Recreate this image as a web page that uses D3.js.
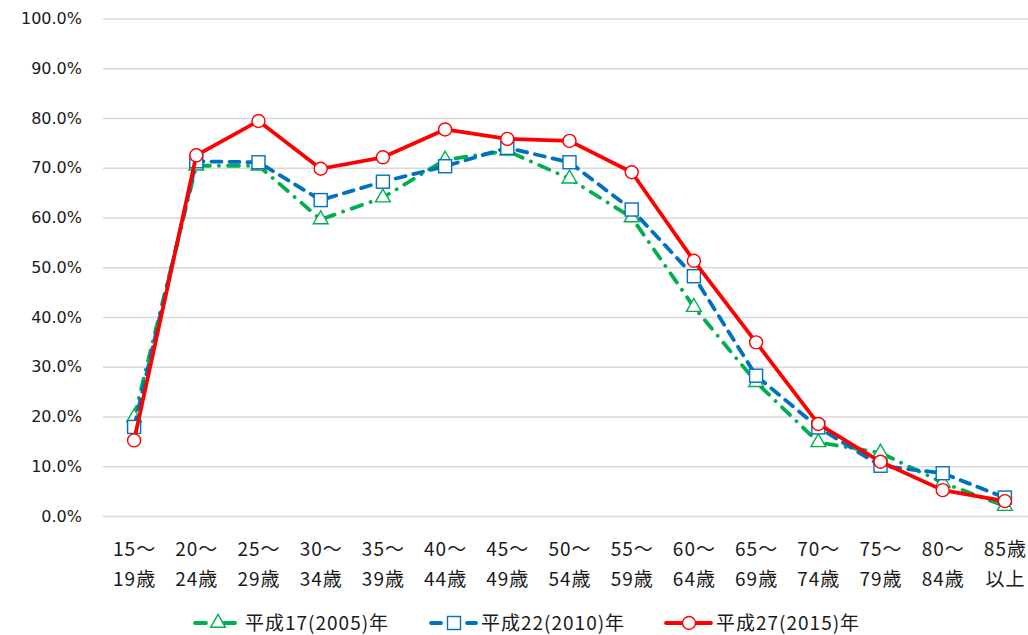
<!DOCTYPE html>
<html>
<head>
<meta charset="utf-8">
<script src="https://cdn.jsdelivr.net/npm/d3@7"></script>
<style>
  body { margin: 0; background: #fff; }
  svg { display: block; }
</style>
</head>
<body>
<svg id="chart" width="1028" height="635"></svg>
<script>
// age groups (two text lines each)
const ageTop = ['15～', '20～', '25～', '30～', '35～', '40～', '45～', '50～', '55～', '60～', '65～', '70～', '75～', '80～', '85歳'];
const ageBottom = ['19歳', '24歳', '29歳', '34歳', '39歳', '44歳', '49歳', '54歳', '59歳', '64歳', '69歳', '74歳', '79歳', '84歳', '以上'];

// rates in percent
const h17 = [19.8, 70.4, 70.4, 59.6, 64.0, 71.6, 73.4, 67.8, 60.0, 42.0, 26.9, 14.8, 12.7, 6.7, 2.0];
const h22 = [17.9, 71.3, 71.1, 63.5, 67.2, 70.3, 74.0, 71.1, 61.6, 48.2, 28.2, 17.8, 10.1, 8.6, 3.7];
const h27 = [15.2, 72.5, 79.4, 69.8, 72.1, 77.7, 75.8, 75.4, 69.1, 51.3, 34.9, 18.5, 10.9, 5.2, 3.0];

const seriesNames = ['平成17(2005)年', '平成22(2010)年', '平成27(2015)年'];
const yTicks = [0, 0.1, 0.2, 0.3, 0.4, 0.5, 0.6, 0.7, 0.8, 0.9, 1.0];

const series = [
    { name: seriesNames[0], values: h17, color: '#00B050', dash: '11 9 0.1 9', marker: 'triangle' },
    { name: seriesNames[1], values: h22, color: '#0070C0', dash: '10 8', marker: 'square' },
    { name: seriesNames[2], values: h27, color: '#FF0000', dash: null, marker: 'circle' }
];

const svg = d3.select('#chart');
const jpFont = '"Noto Sans CJK JP", "Noto Sans", sans-serif';
const numFont = '"DejaVu Sans", sans-serif';

const plot = { left: 103, right: 1036, top: 18.5, bottom: 516 };

const x = d3.scaleBand()
    .domain(d3.range(ageTop.length))
    .range([plot.left, plot.right])
    .padding(0);
const cx = i => x(i) + x.bandwidth() / 2;

const y = d3.scaleLinear()
    .domain([0, 1])
    .range([plot.bottom, plot.top]);

// gridlines + y labels
const yAxis = svg.append('g')
    .attr('transform', `translate(${plot.left},0)`)
    .call(d3.axisLeft(y).tickValues(yTicks).tickFormat(d3.format('.1%'))
        .tickSize(-(plot.right - plot.left)).tickPadding(21));
yAxis.select('.domain').remove();
yAxis.selectAll('line').attr('stroke', '#d9d9d9').attr('stroke-width', 1.3);
yAxis.selectAll('text')
    .attr('fill', '#1a1a1a')
    .style('font-family', numFont)
    .style('font-size', '16px');

// x labels
const xl = svg.append('g');
ageTop.forEach((t, i) => {
    xl.append('text').attr('x', cx(i) + 0.5).attr('y', 556)
        .attr('text-anchor', 'middle').text(t);
    xl.append('text').attr('x', cx(i) + 0.5).attr('y', 586)
        .attr('text-anchor', 'middle').text(ageBottom[i]);
});
xl.selectAll('text')
    .attr('fill', '#1a1a1a')
    .style('font-family', jpFont)
    .style('font-size', '19px')
    .style('letter-spacing', '1px');

// marker drawing helper
function drawMarker(sel, type, color) {
    if (type === 'circle') {
        sel.append('circle').attr('r', 6.5);
    } else if (type === 'square') {
        sel.append('rect').attr('x', -6.5).attr('y', -6.5).attr('width', 13).attr('height', 13);
    } else {
        sel.append('path').attr('d', d3.symbol(d3.symbolTriangle, 95)());
    }
    sel.selectAll('circle,rect,path')
        .attr('fill', '#fff')
        .attr('stroke', color)
        .attr('stroke-width', 1.4);
}

const line = d3.line()
    .x((d, i) => cx(i))
    .y(d => y(d / 100));

series.forEach(s => {
    const g = svg.append('g');
    g.append('path')
        .datum(s.values)
        .attr('d', line)
        .attr('fill', 'none')
        .attr('stroke', s.color)
        .attr('stroke-width', 3.8)
        .attr('stroke-linecap', 'round')
        .attr('stroke-linejoin', 'round')
        .attr('stroke-dasharray', s.dash);
    s.values.forEach((v, i) => {
        const m = g.append('g').attr('transform', `translate(${cx(i)},${y(v / 100)})`);
        drawMarker(m, s.marker, s.color);
    });
});

// legend
const legendX = [245, 481, 716];
series.forEach((s, k) => {
    const lg = svg.append('g').attr('transform', `translate(${legendX[k]},623)`);
    lg.append('line')
        .attr('x1', -50).attr('x2', -5)
        .attr('stroke', s.color)
        .attr('stroke-width', 3.8)
        .attr('stroke-linecap', 'round')
        .attr('stroke-dasharray', s.dash);
    const m = lg.append('g').attr('transform', 'translate(-27,0)');
    drawMarker(m, s.marker, s.color);
    lg.append('text')
        .attr('x', 0).attr('y', 7)
        .attr('fill', '#1a1a1a')
        .style('font-family', jpFont)
        .style('font-size', '19px')
        .style('letter-spacing', '1px')
        .text(s.name);
});
</script>
</body>
</html>
